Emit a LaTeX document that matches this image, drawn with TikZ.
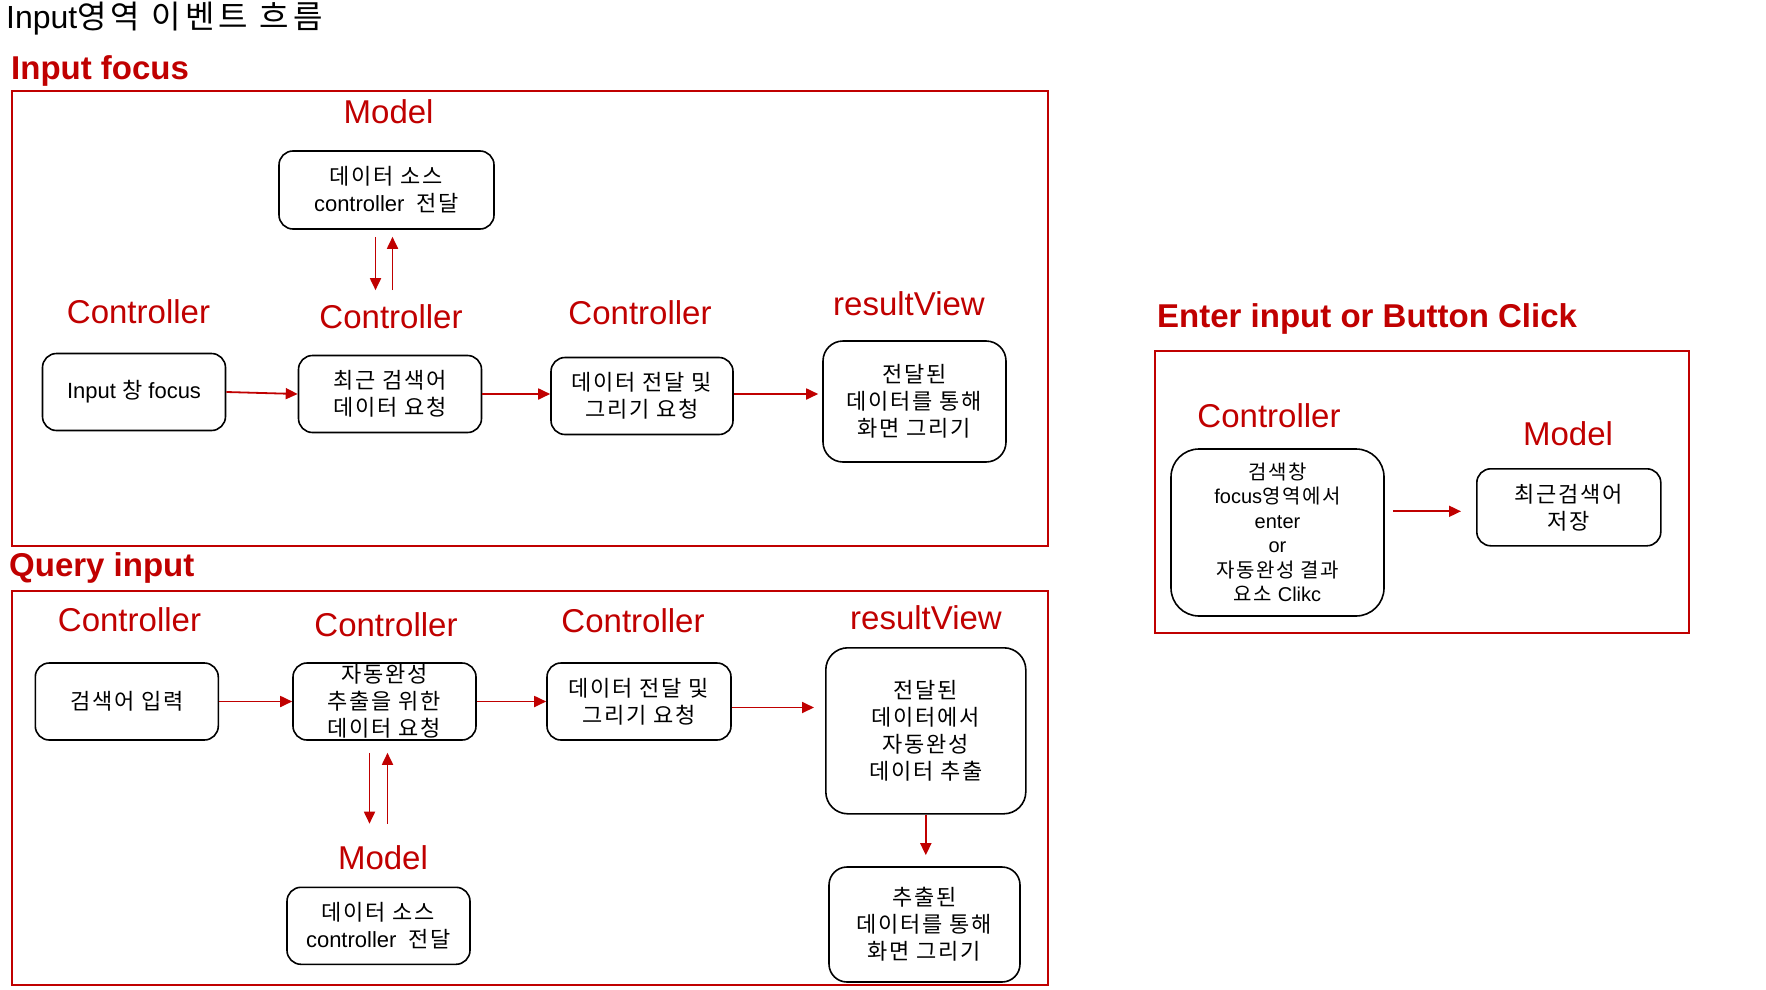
\documentclass[tikz,border=0pt]{standalone}
\usepackage{fontspec}
\setmainfont{Liberation Sans}
\newfontfamily\kr[LetterSpace=8]{Noto Sans CJK KR}
\newfontfamily\krwide[LetterSpace=13]{Noto Sans CJK KR}
\usetikzlibrary{arrows.meta,positioning}
\definecolor{ppred}{RGB}{192,0,0}
\tikzset{
  box/.style={draw, line width=1.6pt, rounded corners=14pt, align=center, inner sep=0pt,
    font=\fontsize{22}{27}\selectfont},
  krbox/.style={box, font=\kr\fontsize{22}{27}\selectfont},
  role/.style={text=ppred, inner sep=0pt, font=\fontsize{33}{38}\selectfont},
  part/.style={text=ppred, inner sep=0pt, anchor=base west, font=\bfseries\fontsize{33}{38}\selectfont},
  area/.style={draw=ppred, line width=1.5pt},
  flow/.style={draw=ppred, line width=1.8pt, -{Triangle[length=12pt,width=11pt]}},
}
\begin{document}
\begin{tikzpicture}[x=1pt,y=-1pt]
    \useasboundingbox (0,0) rectangle (1766,990);
    \node[anchor=base west, inner sep=0pt, font=\fontsize{32}{36}\selectfont] (title) at (6,29)
        {Input{\krwide 영역 이벤트 흐름}};

    \node[part] (hfocus) at (11,79) {Input focus};
    \draw[area] (12,91) rectangle (1048,546);
    \node[role] (ifmodel) at (388.6,111.5) {Model};
    \node[role] (ifctla) at (138.5,312) {Controller};
    \node[role] (ifctlb) at (391,316.5) {Controller};
    \node[role] (ifctlc) at (640,313) {Controller};
    \node[role] (ifres) at (909,304) {resultView};
    \node[box, minimum width=215pt, minimum height=78pt] (ifsrc) at (386.5,190)
        {{\kr 데이터 소스}\\controller\ \ {\kr 전달}};
    \node[box, minimum width=183pt, minimum height=77pt] (ifin) at (134,392) {Input {\kr 창} focus};
    \node[krbox, minimum width=183pt, minimum height=77pt] (ifreq) at (390,394)
        {최근 검색어\\데이터 요청};
    \node[krbox, minimum width=182pt, minimum height=77pt] (ifsend) at (642,396)
        {데이터 전달 및\\그리기 요청};
    \node[krbox, rounded corners=20pt, minimum width=183pt, minimum height=121pt] (ifview) at (914.5,401.5)
        {전달된\\데이터를 통해\\화면 그리기};
    \draw[flow] (ifin.east) -- (ifreq.west);
    \draw[flow] (ifreq.east) -- (ifreq.east -| ifsend.west);
    \draw[flow, shorten >=4pt] ([yshift=2pt]ifsend.east) -- ([yshift=2pt]ifsend.east -| ifview.west);
    \draw[flow, shorten <=7pt, shorten >=14pt] ([xshift=-11pt]ifsrc.south)
        -- ([xshift=-11pt]ifsrc.south |- ifctlb.north);
    \draw[flow, shorten <=14pt, shorten >=7pt] ([xshift=6pt]ifsrc.south |- ifctlb.north)
        -- ([xshift=6pt]ifsrc.south);

    \node[part] (hquery) at (9,576) {Query input};
    \draw[area] (12,591) rectangle (1048,985);
    \node[role] (qctla) at (129.5,619.5) {Controller};
    \node[role] (qctlb) at (386,625) {Controller};
    \node[role] (qctlc) at (633,620.6) {Controller};
    \node[role] (qres) at (926,618) {resultView};
    \node[role] (qmodel) at (383,858) {Model};
    \node[krbox, minimum width=183pt, minimum height=77pt] (qin) at (126.8,701.5) {검색어 입력};
    \node[krbox, minimum width=183pt, minimum height=77pt] (qreq) at (384.5,701.5)
        {자동완성\\추출을 위한\\데이터 요청};
    \node[krbox, minimum width=184pt, minimum height=77pt] (qsend) at (639,701.5)
        {데이터 전달 및\\그리기 요청};
    \node[krbox, rounded corners=22pt, minimum width=200pt, minimum height=166pt] (qext) at (925.8,730.8)
        {전달된\\데이터에서\\자동완성\\데이터 추출};
    \node[krbox, rounded corners=18pt, minimum width=191pt, minimum height=115pt] (qview) at (924.5,924.5)
        {추출된\\데이터를 통해\\화면 그리기};
    \node[box, minimum width=183pt, minimum height=77pt] (qsrc) at (378.5,925.8)
        {{\kr 데이터 소스}\\controller\ \ {\kr 전달}};
    \draw[flow] (qin.east) -- (qreq.west);
    \draw[flow] (qreq.east) -- (qsend.west);
    \draw[flow, shorten >=11pt] ([yshift=-6pt]qsend.east) -- ([yshift=-6pt]qsend.east -| qext.west);
    \draw[flow, shorten <=12pt, shorten >=22pt] ([xshift=-15pt]qreq.south)
        -- ([xshift=-15pt]qreq.south |- qmodel.north);
    \draw[flow, shorten <=22pt, shorten >=12pt] ([xshift=3pt]qreq.south |- qmodel.north)
        -- ([xshift=3pt]qreq.south);
    \draw[flow, shorten >=11pt] (qext.south) -- (qext.south |- qview.north);

    \node[part] (henter) at (1157,327) {Enter input or Button Click};
    \draw[area] (1155,351) rectangle (1689,633);
    \node[role] (ectl) at (1269,415.6) {Controller};
    \node[role] (emodel) at (1568,433.6) {Model};
    \node[box, rounded corners=28pt, minimum width=213pt, minimum height=167pt,
        font=\fontsize{20}{24.5}\selectfont] (eclick) at (1277.5,532.5)
        {{\kr 검색창}\\focus{\kr 영역에서}\\enter\\or\\{\kr 자동완성 결과}\\{\kr 요소} Clikc};
    \node[krbox, minimum width=184pt, minimum height=77pt] (esave) at (1568.8,507.3)
        {최근검색어\\저장};
    \draw[flow, shorten <=8pt, shorten >=15pt] ([yshift=-4pt]eclick.east |- esave.west)
        -- ([yshift=-4pt]esave.west);
\end{tikzpicture}
\end{document}
